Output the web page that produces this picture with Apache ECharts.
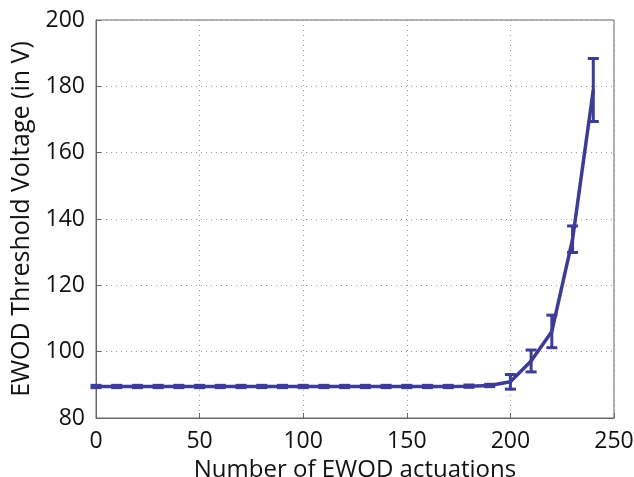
<!DOCTYPE html>
<html>
<head>
<meta charset="utf-8">
<script src="https://cdn.jsdelivr.net/npm/echarts@6/dist/echarts.min.js"></script>
<style>
html,body{margin:0;padding:0;background:#fff;}
#c{width:634px;height:477px;}
</style>
</head>
<body>
<div id="c"></div>
<script>
const actuations = [0,10,20,30,40,50,60,70,80,90,100,110,120,130,140,150,160,170,180,190,200,210,220,230,240];
const voltage =    [89.5,89.5,89.5,89.5,89.5,89.5,89.5,89.5,89.5,89.5,89.5,89.5,89.5,89.5,89.5,89.5,89.5,89.5,89.6,89.8,90.9,97.2,106.1,133.9,178.9];
const errorV =     [0.35,0.35,0.35,0.35,0.35,0.35,0.35,0.35,0.35,0.35,0.35,0.35,0.35,0.35,0.35,0.35,0.35,0.35,0.35,0.35,2.2,3.3,4.9,4.0,9.5];
const xTicks = [0,50,100,150,200,250];
const yTicks = [80,100,120,140,160,180,200];

const color = '#3c3c96';
const font = '"Open Sans", "Noto Sans", sans-serif';

const lineData = actuations.map((x,i)=>[x, voltage[i]]);
const errData = actuations.map((x,i)=>[x, voltage[i]-errorV[i], voltage[i]+errorV[i]]);

const chart = echarts.init(document.getElementById('c'), null, {renderer:'canvas'});
chart.setOption({
  backgroundColor:'#fff',
  animation:false,
  grid:{left:96, right:20, top:20, bottom:59, show:true, borderColor:'#666', borderWidth:1, backgroundColor:'transparent', containLabel:false, outerBoundsMode:'none'},
  xAxis:{
    type:'value', min:xTicks[0], max:xTicks[xTicks.length-1], interval:50,
    name:'Number of EWOD actuations', nameLocation:'middle', nameGap:36,
    nameTextStyle:{fontFamily:font, fontSize:24, color:'#111'},
    axisLine:{show:true, lineStyle:{color:'#666'}},
    axisTick:{show:true, inside:true, length:5, lineStyle:{color:'#666'}},
    axisLabel:{fontFamily:font, fontSize:23, color:'#111', margin:12},
    splitLine:{show:true, lineStyle:{type:[1,4], color:'#999', width:1}}
  },
  yAxis:{
    type:'value', min:yTicks[0], max:yTicks[yTicks.length-1], interval:20,
    name:'EWOD Threshold Voltage (in V)', nameLocation:'middle', nameGap:58,
    nameTextStyle:{fontFamily:font, fontSize:25, color:'#111'},
    axisLine:{show:true, lineStyle:{color:'#666'}},
    axisTick:{show:true, inside:true, length:5, lineStyle:{color:'#666'}},
    axisLabel:{fontFamily:font, fontSize:23, color:'#111', margin:11},
    splitLine:{show:true, lineStyle:{type:[1,4], color:'#999', width:1}}
  },
  series:[
    {
      type:'line', data:lineData, showSymbol:false, symbol:'none',
      lineStyle:{color:color, width:3.5}, z:3
    },
    {
      type:'custom', data:errData, z:4,
      renderItem:function(params, api){
        const x = api.value(0);
        const lo = api.coord([x, api.value(1)]);
        const hi = api.coord([x, api.value(2)]);
        const hw = 5.5;
        const style = {stroke:color, lineWidth:3, fill:null};
        return {type:'group', children:[
          {type:'line', shape:{x1:lo[0], y1:lo[1], x2:hi[0], y2:hi[1]}, style:style},
          {type:'line', shape:{x1:lo[0]-hw, y1:lo[1], x2:lo[0]+hw, y2:lo[1]}, style:style},
          {type:'line', shape:{x1:hi[0]-hw, y1:hi[1], x2:hi[0]+hw, y2:hi[1]}, style:style}
        ]};
      }
    }
  ]
});
</script>
</body>
</html>
